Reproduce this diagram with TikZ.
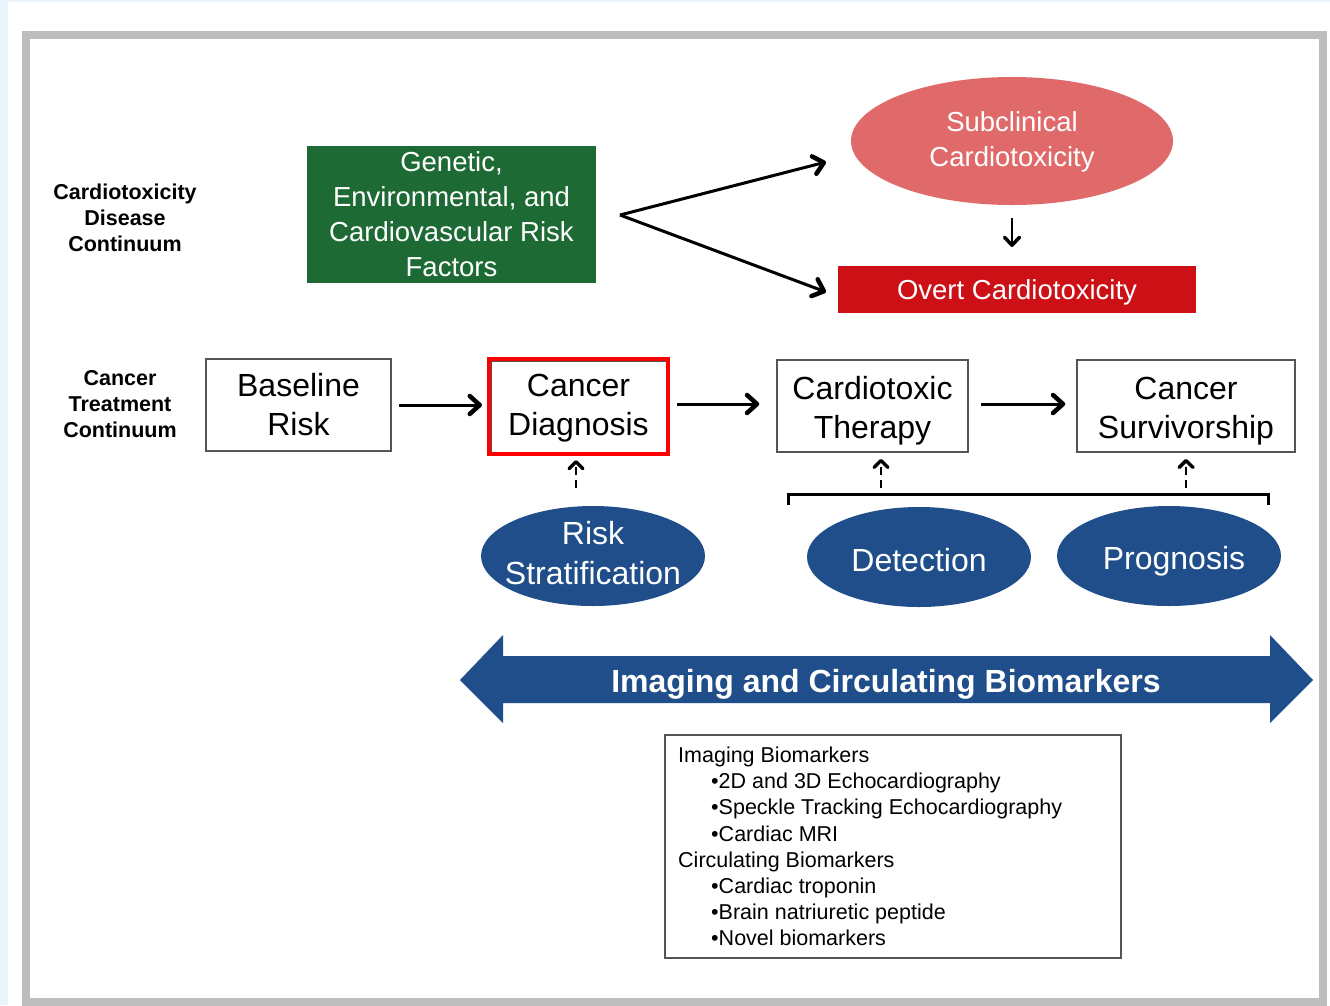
\documentclass[tikz,border=0pt]{standalone}
\usepackage{fontspec}
\setmainfont{Liberation Sans}
\usetikzlibrary{arrows.meta,shapes.geometric}
\definecolor{bgblue}{HTML}{EAF4FB}
\definecolor{framegray}{HTML}{BDBDBD}
\definecolor{riskgreen}{HTML}{1E6A34}
\definecolor{subred}{HTML}{E06A6A}
\definecolor{overtred}{HTML}{CC1016}
\definecolor{navy}{HTML}{1F4E8A}
\definecolor{boxline}{HTML}{555555}
\newcommand{\fsz}[2]{\fontsize{#1}{#2}\selectfont}
\begin{document}
\begin{tikzpicture}[x=1pt,y=-1pt,
  lbl/.style={font=\bfseries\fsz{21.5}{26}, align=center, inner sep=0},
  greenbox/.style={fill=riskgreen, text=white, minimum width=289, minimum height=137, align=center, font=\fsz{27.5}{35}, inner sep=0},
  tbox/.style={draw=boxline, line width=1.5, font=\fsz{32}{39}, align=center, inner sep=0},
  blueell/.style={ellipse, fill=navy, minimum width=224, minimum height=100, inner sep=0},
  wtext/.style={text=white, align=center, inner sep=0},
  arr/.style={line width=3pt, -{Straight Barb[length=10pt,width=18pt,line width=4.5pt,round]}},
  darr/.style={line width=2.5pt, dash pattern=on 8pt off 5pt, -{Straight Barb[length=7pt,width=14pt,line width=3.5pt,round]}}
]
\useasboundingbox (0,0) rectangle (1330,1005);
\fill[bgblue] (0,0) rectangle (1330,1005);
\fill[white] (8,2) rectangle (1330,1005);
\draw[framegray, line width=8] (26,35) rectangle (1323,1002);

% left labels
\node[lbl] (cdc) at (125,218) {Cardiotoxicity\\Disease\\Continuum};
\node[lbl] (ctc) at (120,404) {Cancer\\Treatment\\Continuum};

% top row
\node[greenbox] (gen) at (451.5,214) {Genetic,\\Environmental, and\\Cardiovascular Risk\\Factors};
\node[ellipse, fill=subred, minimum width=322, minimum height=128, inner sep=0] (sub) at (1012,141) {};
\node[wtext, font=\fsz{27.5}{35}] (subt) at (1012,142) {Subclinical\\Cardiotoxicity};
\node[fill=overtred, minimum width=358, minimum height=47, inner sep=0] (overt) at (1017,289.5) {};
\node[wtext, font=\fsz{27.5}{35}] (overtt) at (1017,292.5) {Overt Cardiotoxicity};

\coordinate (fork) at (620,215);
\coordinate (subin) at (826,162);
\coordinate (overtin) at (826,292);
\draw[arr] (fork) -- (subin);
\draw[arr] (fork) -- (overtin);
\coordinate (sd1) at (1012,218);
\coordinate (sd2) at (1012,247);
\draw[line width=2.5pt, -{Straight Barb[length=8pt,width=15pt,line width=3.5pt,round]}] (sd1) -- (sd2);

% treatment row
\node[tbox, minimum width=185, minimum height=92] (base) at (298.5,405) {Baseline\\Risk};
\node[draw=boxline, line width=1, minimum width=175, minimum height=91, inner sep=0] (dxin) at (578.5,406.5) {};
\node[draw=red, line width=4, minimum width=179, minimum height=95, inner sep=0] (dx) at (578.5,406.5) {};
\node[wtext, text=black, font=\fsz{32}{39}] (dxt) at (578.5,408.5) {Cancer\\Diagnosis};
\node[tbox, minimum width=191, minimum height=92] (ther) at (872.5,406) {};
\node[wtext, text=black, font=\fsz{32}{39}] (thert) at (872.5,411) {Cardiotoxic\\Therapy};
\node[tbox, minimum width=218, minimum height=92] (surv) at (1186,406) {};
\node[wtext, text=black, font=\fsz{32}{39}] (survt) at (1186,411) {Cancer\\Survivorship};

\draw[arr, shorten <=7, shorten >=5] (base.east |- 0,405) -- (dx.west |- 0,405);
\draw[arr, shorten <=7, shorten >=17] (dx.east |- 0,404) -- (ther.west |- 0,404);
\draw[arr, shorten <=12, shorten >=11] (ther.east |- 0,404) -- (surv.west |- 0,404);

% dashed arrows and bracket
\coordinate (rsd) at (576,488);
\coordinate (ded) at (881,488);
\coordinate (prd) at (1186,488);
\draw[darr, shorten >=4] (rsd) -- (rsd |- dx.south);
\draw[darr, shorten >=6] (ded) -- (ded |- ther.south);
\draw[darr, shorten >=6] (prd) -- (prd |- surv.south);
\coordinate (bl) at (788,505);
\coordinate (bt) at (788,494);
\coordinate (br) at (1268,505);
\draw[line width=3] (bl) -- (bt) -- (bt -| br) -- (br);

% blue ellipses
\node[blueell] (rs) at (593,556) {};
\node[wtext, font=\fsz{32}{40}] (rst) at (593,553) {Risk\\Stratification};
\node[blueell] (det) at (919,557) {};
\node[wtext, font=\fsz{32}{40}] (dett) at (919,560) {Detection};
\node[blueell] (prog) at (1169,556) {};
\node[wtext, font=\fsz{32}{40}] (progt) at (1174,561) {Prognosis};

% big double arrow
\fill[navy] (460,680) -- (503,635) -- (503,656) -- (1270,656) -- (1270,635) -- (1313,680)
  -- (1270,723) -- (1270,703) -- (503,703) -- (503,723) -- cycle;
\node[wtext, font=\bfseries\fsz{32}{38}] (bigt) at (886,684) {Imaging and Circulating Biomarkers};

% biomarker box
\node[draw=boxline, line width=1.5, minimum width=456, minimum height=223, inner sep=0] (bmbox) at (893,846.5) {};
\node[anchor=north west, align=left, inner sep=0, font=\fsz{21.5}{26.1}] (bmtext) at (678,747) {Imaging Biomarkers\\
\hspace*{33pt}•2D and 3D Echocardiography\\
\hspace*{33pt}•Speckle Tracking Echocardiography\\
\hspace*{33pt}•Cardiac MRI\\
Circulating Biomarkers\\
\hspace*{33pt}•Cardiac troponin\\
\hspace*{33pt}•Brain natriuretic peptide\\
\hspace*{33pt}•Novel biomarkers};
\end{tikzpicture}
\end{document}
